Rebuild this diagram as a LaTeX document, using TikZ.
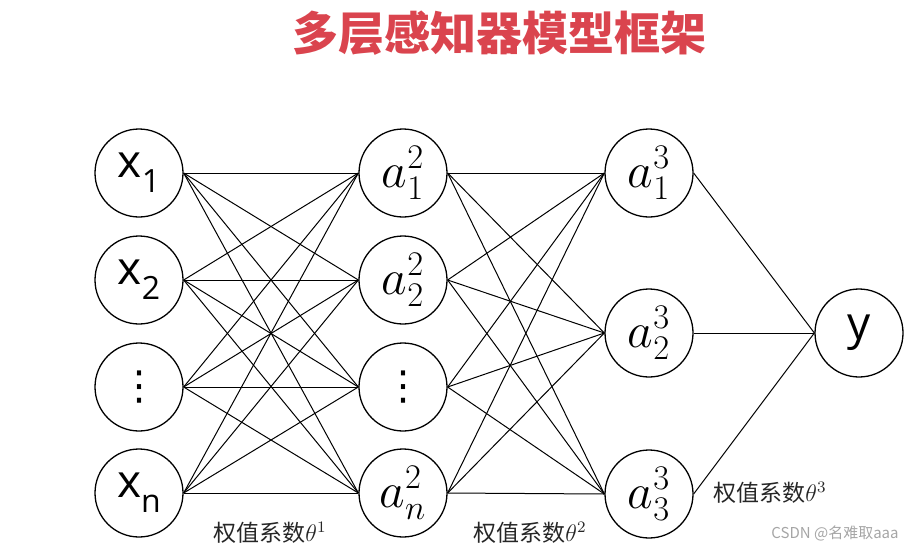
\documentclass[tikz,border=0pt]{standalone}
\usepackage{fontspec}
\setsansfont{Open Sans}
\newfontfamily\cjk{Noto Sans CJK SC}
\newfontfamily\symfont{DejaVu Sans}
\usepackage{xcolor}
\usepackage{tikz}
\usetikzlibrary{positioning}

\definecolor{titlered}{RGB}{218,68,78}
\definecolor{markgray}{RGB}{165,165,165}

% letter with a lowered index, as in the input nodes
\newcommand{\insub}[2]{#1\raisebox{-0.32em}{\fontsize{16}{16}\selectfont #2}}

\begin{document}
\begin{tikzpicture}[x=0.5pt,y=-0.5pt,
    neuron/.style={circle, draw, line width=0.65pt, minimum size=44pt, inner sep=0pt,
        font=\sffamily\fontsize{23}{23}\selectfont},
    dotsneuron/.style={neuron, font=\symfont\fontsize{20}{20}\selectfont},
    wire/.style={line width=0.5pt},
    weightlabel/.style={font=\cjk\fontsize{11.5}{12}\selectfont, text=black!85}]

\useasboundingbox (0,0) rectangle (924,551);

% Title
\node[font=\cjk\bfseries\fontsize{23}{23}\selectfont, text=titlered] (title) at (499,33) {多层感知器模型框架};

% Input layer
\node[neuron] (x1) at (139,173) {\insub{x}{1}};
\node[neuron] (x2) at (139,280) {\insub{x}{2}};
\node[dotsneuron] (x3) at (139,387) {⋮};
\node[neuron] (x4) at (139,493) {\insub{x}{n}};

% Hidden layer
\node[neuron] (h1) at (403,173) {$a^2_1$};
\node[neuron] (h2) at (403,280) {$a^2_2$};
\node[dotsneuron] (h3) at (403,387) {⋮};
\node[neuron] (h4) at (403,493) {$a^2_n$};

% Second hidden layer
\node[neuron] (o1) at (649,173) {$a^3_1$};
\node[neuron] (o2) at (649,333) {$a^3_2$};
\node[neuron] (o3) at (649,494) {$a^3_3$};

% Output
\node[neuron] (y) at (859,333) {y};

% Connections
\foreach \i in {1,...,4} {
    \foreach \j in {1,...,4} {
        \draw[wire] (x\i.east) -- (h\j.west);
    }
}
\foreach \i in {1,...,4} {
    \foreach \j in {1,2,3} {
        \draw[wire] (h\i.east) -- (o\j.west);
    }
}
\foreach \j in {1,2,3} {
    \draw[wire] (o\j.east) -- (y.west);
}

% Weight labels
\node[weightlabel] (w1) at (270,533) {权值系数$\theta^1$};
\node[weightlabel] (w2) at (530,533) {权值系数$\theta^2$};
\node[weightlabel] (w3) at (770,493) {权值系数$\theta^3$};

% Watermark
\node[font=\cjk\fontsize{7.5}{8}\selectfont, text=markgray] (mark) at (835,533) {CSDN @名难取aaa};

\end{tikzpicture}
\end{document}
